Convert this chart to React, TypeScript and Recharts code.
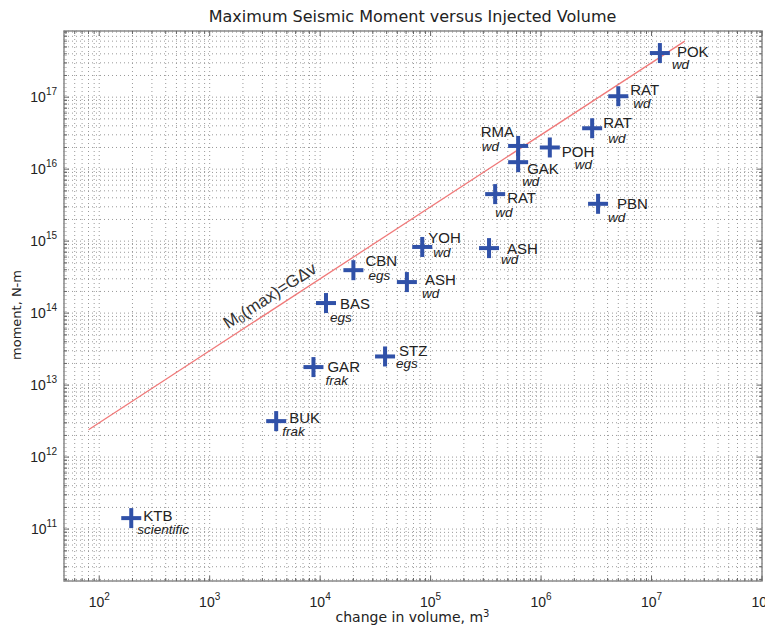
import React from 'react';
import {
  ScatterChart,
  Scatter,
  XAxis,
  YAxis,
  CartesianGrid,
  ReferenceLine,
  ReferenceArea,
} from 'recharts';

// ---------------- data ----------------
const siteCodes = ['POK', 'RAT', 'RAT', 'RMA', 'POH', 'GAK', 'RAT', 'PBN', 'YOH', 'ASH', 'CBN', 'ASH', 'BAS', 'STZ', 'GAR', 'BUK', 'KTB'];
const siteKinds = ['wd', 'wd', 'wd', 'wd', 'wd', 'wd', 'wd', 'wd', 'wd', 'wd', 'egs', 'wd', 'egs', 'egs', 'frak', 'frak', 'scientific'];
const injectedVolumes = [1.19e7, 5.0e6, 2.9e6, 6.2e5, 1.2e6, 6.2e5, 3.84e5, 3.28e6, 8.4e4, 3.38e5, 2.0e4, 6.1e4, 1.13e4, 3.87e4, 8.7e3, 4.0e3, 195];
const maxMoments = [4.1e17, 1.03e17, 3.7e16, 2.1e16, 2.0e16, 1.25e16, 4.5e15, 3.3e15, 8.3e14, 8.0e14, 3.95e14, 2.7e14, 1.38e14, 2.5e13, 1.78e13, 3.16e12, 1.42e11];

// upper bound line M0(max) = G * dV  (G = 3e10 Pa)
const boundVolumes = [80, 2e7];
const shearModulus = 3e10;
const boundAnnotation = { x: 3500, y: 1.75e14 };

const xDomain: [number, number] = [48, 1e8];
const yDomain: [number, number] = [1.9e10, 8.3e17];
const xDecades = [1, 2, 3, 4, 5, 6, 7, 8];
const yDecades = [10, 11, 12, 13, 14, 15, 16, 17];
const mantissas = [1, 2, 3, 4, 5, 6, 7, 8, 9];

const titleText = 'Maximum Seismic Moment versus Injected Volume';
const xLabelText = 'change in volume, m';
const yLabelText = 'moment, N-m';

// ---------------- layout / styles ----------------
const W = 765;
const H = 618;
const MARGIN = { top: 23, right: 11, bottom: 5, left: 6 };
const X_AXIS_H = 40;
const Y_AXIS_W = 50;
const PLOT_W = W - MARGIN.left - MARGIN.right - Y_AXIS_W;
const PLOT_H = H - MARGIN.top - MARGIN.bottom - X_AXIS_H;

const BLUE = '#3051a8';
const RED = '#f07a7a';
const TEXT = '#222';
const SANS = '"Liberation Sans", Arial, Helvetica, sans-serif';
const WIDE = '"DejaVu Sans", Verdana, sans-serif';

// label offsets from each cross centre: name [dx, dy], kind [dx, dy]
const labelLayout: { n: [number, number]; s: [number, number]; end?: boolean }[] = [
  { n: [17, -2], s: [12, 11] }, // POK
  { n: [12, -7], s: [15, 7] }, // RAT
  { n: [11, -6], s: [16, 10] }, // RAT
  { n: [-4, -14], s: [-19, 1], end: true }, // RMA
  { n: [12, 4], s: [25, 17] }, // POH
  { n: [9, 6], s: [4, 19] }, // GAK
  { n: [12, 3], s: [0, 18] }, // RAT
  { n: [19, 0], s: [10, 14] }, // PBN
  { n: [6, -9], s: [11, 6] }, // YOH
  { n: [18, 0], s: [12, 11] }, // ASH
  { n: [12, -10], s: [15, 5] }, // CBN
  { n: [18, -3], s: [15, 11] }, // ASH
  { n: [14, 0], s: [4, 14] }, // BAS
  { n: [14, -6], s: [11, 7] }, // STZ
  { n: [14, -1], s: [12, 13] }, // GAR
  { n: [13, -4], s: [6, 10] }, // BUK
  { n: [12, -3], s: [6, 11] }, // KTB
];

// ---------------- derived tables ----------------
const points = siteCodes.map((site, i) => ({
  i,
  site,
  kind: siteKinds[i],
  x: injectedVolumes[i],
  y: maxMoments[i],
}));

const boundSegment = boundVolumes.map((v) => ({ x: v, y: shearModulus * v }));

const buildTicks = (decades: number[], dom: [number, number]) => {
  const out: number[] = [];
  decades.forEach((e) =>
    mantissas.forEach((k) => {
      const v = k * Math.pow(10, e);
      if (v >= dom[0] && v <= dom[1]) out.push(v);
    })
  );
  return out;
};
const xTicks = buildTicks(xDecades, xDomain);
const yTicks = buildTicks(yDecades, yDomain);

const isMajor = (v: number) => {
  const l = Math.log10(v);
  return Math.abs(l - Math.round(l)) < 1e-6;
};

// ---------------- renderers ----------------
const XTick = (props: any) => {
  const { x, y, payload } = props;
  const v = payload.value;
  const major = isMajor(v);
  const len = major ? 5 : 3;
  const e = Math.round(Math.log10(v));
  return (
    <g>
      <line x1={x} x2={x} y1={y} y2={y - len} stroke="#666" strokeWidth={1} />
      <line x1={x} x2={x} y1={y - PLOT_H} y2={y - PLOT_H + len} stroke="#666" strokeWidth={1} />
      {major && (
        <text x={x} y={y + 26} textAnchor="middle" fontFamily={SANS} fontSize={14} fill={TEXT}>
          10
          <tspan dy={-7} fontSize={10}>
            {e}
          </tspan>
        </text>
      )}
    </g>
  );
};

const YTick = (props: any) => {
  const { x, y, payload } = props;
  const v = payload.value;
  const major = isMajor(v);
  const len = major ? 5 : 3;
  const e = Math.round(Math.log10(v));
  return (
    <g>
      <line x1={x} x2={x + len} y1={y} y2={y} stroke="#666" strokeWidth={1} />
      <line x1={x + PLOT_W} x2={x + PLOT_W - len} y1={y} y2={y} stroke="#666" strokeWidth={1} />
      {major && (
        <text x={x - 7} y={y + 5} textAnchor="end" fontFamily={SANS} fontSize={14} fill={TEXT}>
          10
          <tspan dy={-7} fontSize={10}>
            {e}
          </tspan>
        </text>
      )}
    </g>
  );
};

const CrossShape = (props: any) => {
  const { cx, cy, payload } = props;
  const L = labelLayout[payload.i];
  const r = 10;
  return (
    <g>
      <line x1={cx - r} x2={cx + r} y1={cy} y2={cy} stroke={BLUE} strokeWidth={4} />
      <line x1={cx} x2={cx} y1={cy - r} y2={cy + r} stroke={BLUE} strokeWidth={4} />
      <text
        x={cx + L.n[0]}
        y={cy + L.n[1]}
        dominantBaseline="central"
        textAnchor={L.end ? 'end' : 'start'}
        fontFamily={SANS}
        fontSize={15}
        fill={TEXT}
      >
        {payload.site}
      </text>
      <text
        x={cx + L.s[0]}
        y={cy + L.s[1]}
        dominantBaseline="central"
        textAnchor={L.end ? 'end' : 'start'}
        fontFamily={SANS}
        fontStyle="italic"
        fontSize={13.5}
        fill={TEXT}
      >
        {payload.kind}
      </text>
    </g>
  );
};

const AnnotationShape = (props: any) => {
  const { cx, cy } = props;
  return (
    <text
      x={cx}
      y={cy}
      transform={`rotate(-33 ${cx} ${cy})`}
      textAnchor="middle"
      dominantBaseline="central"
      fontFamily={SANS}
      fontSize={17}
      fill="#333"
    >
      M
      <tspan dy={4} fontSize={11}>
        0
      </tspan>
      <tspan dy={-4}>(max)=GΔv</tspan>
    </text>
  );
};

export default function App() {
  return (
    <div style={{ position: 'relative', width: W, height: H }}>
      <ScatterChart width={W} height={H} margin={MARGIN}>
        <CartesianGrid stroke="#9a9a9a" strokeDasharray="1 3" strokeWidth={1} />
        <XAxis
          type="number"
          dataKey="x"
          scale="log"
          domain={xDomain}
          allowDataOverflow
          ticks={xTicks}
          interval={0}
          height={X_AXIS_H}
          axisLine={false}
          tickLine={false}
          tickSize={0}
          tickMargin={0}
          tick={<XTick />}
        />
        <YAxis
          type="number"
          dataKey="y"
          scale="log"
          domain={yDomain}
          allowDataOverflow
          ticks={yTicks}
          interval={0}
          width={Y_AXIS_W}
          axisLine={false}
          tickLine={false}
          tickSize={0}
          tickMargin={0}
          tick={<YTick />}
        />
        <ReferenceArea
          x1={xDomain[0]}
          x2={xDomain[1]}
          y1={yDomain[0]}
          y2={yDomain[1]}
          fill="none"
          fillOpacity={0}
          stroke="#8a8a8a"
          strokeWidth={1.5}
        />
        <ReferenceLine segment={boundSegment} stroke={RED} strokeWidth={1.3} />
        <Scatter data={[boundAnnotation]} shape={<AnnotationShape />} isAnimationActive={false} />
        <Scatter data={points} shape={<CrossShape />} isAnimationActive={false} />
      </ScatterChart>
      <svg
        width={W}
        height={H}
        style={{ position: 'absolute', left: 0, top: 0, pointerEvents: 'none', overflow: 'visible' }}
      >
        <text x={404.5} y={14} textAnchor="middle" fontFamily={WIDE} fontSize={16} fill={TEXT}>
          {titleText}
        </text>
        <text x={404.5} y={614} textAnchor="middle" fontFamily={WIDE} fontSize={14} fill={TEXT}>
          {xLabelText}
          <tspan dy={-5} fontSize={10}>
            3
          </tspan>
        </text>
        <text
          x={0}
          y={0}
          transform="translate(13 307) rotate(-90)"
          textAnchor="middle"
          fontFamily={WIDE}
          fontSize={13}
          fill={TEXT}
        >
          {yLabelText}
        </text>
      </svg>
    </div>
  );
}
